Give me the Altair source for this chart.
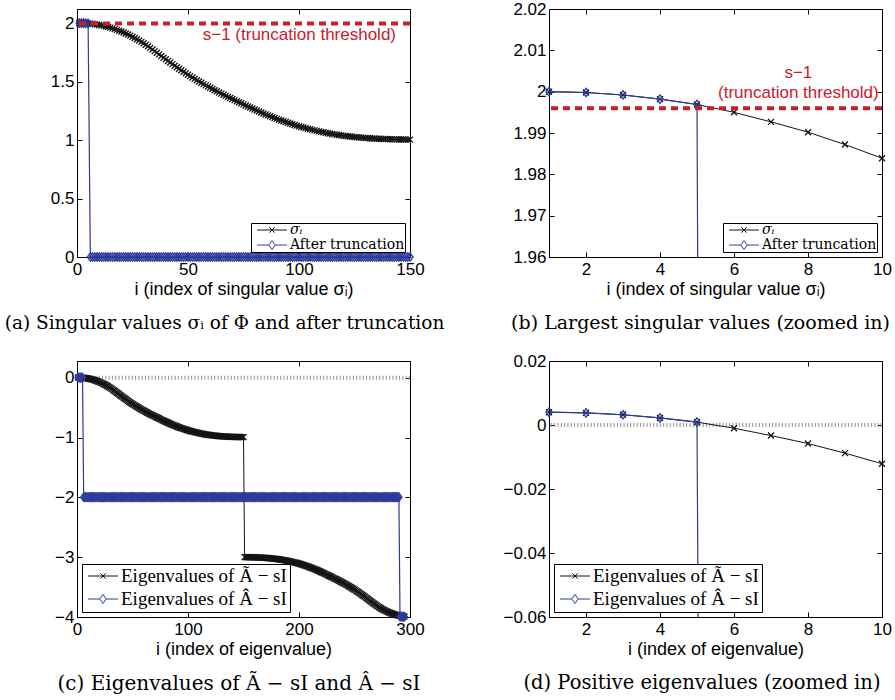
import altair as alt
import pandas as pd

# ---------------- data ----------------
sigma = [
    2.0000, 1.9998, 1.9992, 1.9982, 1.9969, 1.9950, 1.9927, 1.9902, 1.9872, 1.9839,
    1.9801, 1.9758, 1.9711, 1.9660, 1.9605, 1.9546, 1.9483, 1.9416, 1.9345, 1.9270,
    1.9190, 1.9105, 1.9015, 1.8921, 1.8823, 1.8721, 1.8615, 1.8505, 1.8389, 1.8268,
    1.8142, 1.8012, 1.7878, 1.7741, 1.7601, 1.7460, 1.7319, 1.7178, 1.7038, 1.6899,
    1.6761, 1.6624, 1.6488, 1.6353, 1.6220, 1.6089, 1.5960, 1.5833, 1.5708, 1.5585,
    1.5464, 1.5345, 1.5228, 1.5113, 1.5000, 1.4889, 1.4780, 1.4673, 1.4568, 1.4464,
    1.4362, 1.4261, 1.4162, 1.4064, 1.3967, 1.3871, 1.3776, 1.3683, 1.3591, 1.3500,
    1.3410, 1.3321, 1.3233, 1.3140, 1.3048, 1.2957, 1.2867, 1.2778, 1.2690, 1.2603,
    1.2517, 1.2432, 1.2349, 1.2267, 1.2187, 1.2108, 1.2031, 1.1955, 1.1881, 1.1808,
    1.1737, 1.1668, 1.1600, 1.1534, 1.1470, 1.1407, 1.1346, 1.1287, 1.1229, 1.1173,
    1.1119, 1.1066, 1.1015, 1.0965, 1.0917, 1.0870, 1.0825, 1.0781, 1.0739, 1.0698,
    1.0659, 1.0621, 1.0585, 1.0550, 1.0517, 1.0485, 1.0455, 1.0426, 1.0398, 1.0372,
    1.0347, 1.0323, 1.0301, 1.0280, 1.0260, 1.0241, 1.0223, 1.0206, 1.0190, 1.0175,
    1.0161, 1.0148, 1.0136, 1.0125, 1.0115, 1.0105, 1.0096, 1.0088, 1.0081, 1.0074,
    1.0068, 1.0062, 1.0057, 1.0052, 1.0048, 1.0044, 1.0041, 1.0038, 1.0036, 1.0034,
]
after_truncation = [2.0000, 1.9998, 1.9992, 1.9982, 1.9969] + [0.0] * 145
threshold = 1.996

eig_tilde = [
    0.0040, 0.0038, 0.0032, 0.0022, 0.0009, -0.0010, -0.0033, -0.0058, -0.0088, -0.0121,
    -0.0159, -0.0202, -0.0249, -0.0300, -0.0355, -0.0414, -0.0477, -0.0544, -0.0615, -0.0690,
    -0.0770, -0.0855, -0.0945, -0.1039, -0.1137, -0.1239, -0.1345, -0.1455, -0.1571, -0.1692,
    -0.1818, -0.1948, -0.2082, -0.2219, -0.2359, -0.2500, -0.2641, -0.2782, -0.2922, -0.3061,
    -0.3199, -0.3336, -0.3472, -0.3607, -0.3740, -0.3871, -0.4000, -0.4127, -0.4252, -0.4375,
    -0.4496, -0.4615, -0.4732, -0.4847, -0.4960, -0.5071, -0.5180, -0.5287, -0.5392, -0.5496,
    -0.5598, -0.5699, -0.5798, -0.5896, -0.5993, -0.6089, -0.6184, -0.6277, -0.6369, -0.6460,
    -0.6550, -0.6639, -0.6727, -0.6820, -0.6912, -0.7003, -0.7093, -0.7182, -0.7270, -0.7357,
    -0.7443, -0.7528, -0.7611, -0.7693, -0.7773, -0.7852, -0.7929, -0.8005, -0.8079, -0.8152,
    -0.8223, -0.8292, -0.8360, -0.8426, -0.8490, -0.8553, -0.8614, -0.8673, -0.8731, -0.8787,
    -0.8841, -0.8894, -0.8945, -0.8995, -0.9043, -0.9090, -0.9135, -0.9179, -0.9221, -0.9262,
    -0.9301, -0.9339, -0.9375, -0.9410, -0.9443, -0.9475, -0.9505, -0.9534, -0.9562, -0.9588,
    -0.9613, -0.9637, -0.9659, -0.9680, -0.9700, -0.9719, -0.9737, -0.9754, -0.9770, -0.9785,
    -0.9799, -0.9812, -0.9824, -0.9835, -0.9845, -0.9855, -0.9864, -0.9872, -0.9879, -0.9886,
    -0.9892, -0.9898, -0.9903, -0.9908, -0.9912, -0.9916, -0.9919, -0.9922, -0.9924, -0.9926,
    -2.9994, -2.9996, -2.9998, -3.0001, -3.0004, -3.0008, -3.0012, -3.0017, -3.0022, -3.0028,
    -3.0034, -3.0041, -3.0048, -3.0056, -3.0065, -3.0075, -3.0085, -3.0096, -3.0108, -3.0121,
    -3.0135, -3.0150, -3.0166, -3.0183, -3.0201, -3.0220, -3.0240, -3.0261, -3.0283, -3.0307,
    -3.0332, -3.0358, -3.0386, -3.0415, -3.0445, -3.0477, -3.0510, -3.0545, -3.0581, -3.0619,
    -3.0658, -3.0699, -3.0741, -3.0785, -3.0830, -3.0877, -3.0925, -3.0975, -3.1026, -3.1079,
    -3.1133, -3.1189, -3.1247, -3.1306, -3.1367, -3.1430, -3.1494, -3.1560, -3.1628, -3.1697,
    -3.1768, -3.1841, -3.1915, -3.1991, -3.2068, -3.2147, -3.2227, -3.2309, -3.2392, -3.2477,
    -3.2563, -3.2650, -3.2738, -3.2827, -3.2917, -3.3008, -3.3100, -3.3193, -3.3281, -3.3370,
    -3.3460, -3.3551, -3.3643, -3.3736, -3.3831, -3.3927, -3.4024, -3.4122, -3.4221, -3.4322,
    -3.4424, -3.4528, -3.4633, -3.4740, -3.4849, -3.4960, -3.5073, -3.5188, -3.5305, -3.5424,
    -3.5545, -3.5668, -3.5793, -3.5920, -3.6049, -3.6180, -3.6313, -3.6448, -3.6584, -3.6721,
    -3.6859, -3.6998, -3.7138, -3.7279, -3.7420, -3.7561, -3.7701, -3.7838, -3.7972, -3.8102,
    -3.8228, -3.8349, -3.8465, -3.8575, -3.8681, -3.8783, -3.8881, -3.8975, -3.9065, -3.9150,
    -3.9230, -3.9305, -3.9376, -3.9443, -3.9506, -3.9565, -3.9620, -3.9671, -3.9718, -3.9761,
    -3.9799, -3.9832, -3.9862, -3.9887, -3.9910,
]
eig_hat = ([0.0040, 0.0038, 0.0032, 0.0022, 0.0009] + [-1.996] * 285
           + [-3.9929, -3.9942, -3.9952, -3.9958, -3.9960])

LAB_SIGMA = "σᵢ"
LAB_AFTER = "After truncation"
LAB_TILDE = "Eigenvalues of Ã − sI"
LAB_HAT = "Eigenvalues of Â − sI"
THRESH_ONE_LINE = ["s−1 (truncation threshold)"]
THRESH_TWO_LINES = ["s−1", "(truncation threshold)"]

CAPTIONS = [
    "(a) Singular values σᵢ of Φ and after truncation",
    "(b) Largest singular values (zoomed in)",
    "(c) Eigenvalues of Ã − sI and Â − sI",
    "(d) Positive eigenvalues (zoomed in)",
]

# ---------------- style ----------------
BLACK = "#141414"
BLUE = "#2d3c9c"
RED = "#c8202a"
GRAY = "#9a9a9a"
SANS = "Liberation Sans"
SERIF = "Liberation Serif"
CAP_FONT = "DejaVu Serif"

PATH_X = "M-1,-1L1,1M-1,1L1,-1"
PATH_D = "M0,-1L0.72,0L0,1L-0.72,0Z"
PATH_LX = "M-2.5,0L2.5,0M-0.45,-0.45L0.45,0.45M-0.45,0.45L0.45,-0.45"
PATH_LD = "M-2.5,0L-0.55,0M0.55,0L2.5,0M0,-0.75L0.55,0L0,0.75L-0.55,0Z"

INWARD = {"expr": "-5"}


def axis_main(orient, values, title):
    return alt.Axis(orient=orient, values=values, title=title, format=".4~f", grid=False,
                    domain=False, tickSize=INWARD, tickColor="black", tickWidth=1,
                    labelPadding=9 if orient == "bottom" else 8,
                    labelFont=SANS, labelFontSize=17, labelColor="black",
                    labelFlush=False, labelOverlap=False, labelBound=False,
                    titleFont=SANS, titleFontSize=18, titleFontWeight="normal",
                    titleColor="black", titlePadding=3)


def axis_mirror(orient, values):
    return alt.Axis(orient=orient, values=values, labels=False, title=None, grid=False,
                    domain=False, tickSize=INWARD, tickColor="black", tickWidth=1)


def make_legend(labels, orient, font, fsize, pad, rowpad, symoff, laboff, italic_first):
    first = labels[0]
    shape_expr = f"datum.value === '{first}' ? '{PATH_LX}' : '{PATH_LD}'"
    kw = {}
    if italic_first:
        kw["labelFontStyle"] = {"expr": f"datum.value === '{first}' ? 'italic' : 'normal'"}
    return alt.Legend(title=None, orient=orient, offset=5, padding=pad, rowPadding=rowpad,
                      symbolSize=144, symbolOffset=symoff, labelOffset=laboff,
                      symbolType={"expr": shape_expr},
                      labelFont=font, labelFontSize=fsize, labelColor="black", labelLimit=0,
                      strokeColor="black", fillColor="white", cornerRadius=0,
                      symbolStrokeWidth=1, symbolFillColor="white", **kw)


def panel(blk, blu, labels, xdom, ydom, xticks, yticks, xtitle, height, legend,
          caption, cap_dx, cap_size, threshold_rule=False, annot=None, zero_line=False):
    xs = alt.Scale(domain=xdom, nice=False, zero=False)
    ys = alt.Scale(domain=ydom, nice=False, zero=False)
    df_k = pd.DataFrame({"i": list(range(1, len(blk) + 1)), "v": blk, "series": labels[0]})
    df_b = pd.DataFrame({"i": list(range(1, len(blu) + 1)), "v": blu, "series": labels[1]})
    color = alt.Color("series:N", scale=alt.Scale(domain=labels, range=[BLACK, BLUE]),
                      legend=legend)
    in_range = f"datum.v >= {ydom[0]} && datum.v <= {ydom[1]}"

    def xy(xa=None, ya=None):
        return dict(x=alt.X("i:Q", scale=xs, axis=xa), y=alt.Y("v:Q", scale=ys, axis=ya))

    layers = []
    if zero_line:
        layers.append(alt.Chart(pd.DataFrame({"v": [0.0]})).mark_rule(
            color=GRAY, strokeWidth=4, strokeDash=[1.1, 2.2]).encode(
            y=alt.Y("v:Q", scale=ys, axis=None)))
    layers.append(alt.Chart(df_k).mark_line(strokeWidth=1, clip=True).encode(
        **xy(axis_main("bottom", xticks, xtitle), axis_main("left", yticks, None)), color=color))
    layers.append(alt.Chart(df_k).transform_filter(in_range).mark_point(
        shape=PATH_X, size=36, filled=False, color=BLACK, strokeWidth=1.3, opacity=1).encode(**xy()))
    layers.append(alt.Chart(df_b).mark_line(strokeWidth=1.2, clip=True).encode(
        **xy(), color=color))
    layers.append(alt.Chart(df_b).transform_filter(in_range).mark_point(
        shape=PATH_D, size=72, filled=False, color=BLUE, strokeWidth=1.3, opacity=1).encode(**xy()))
    if threshold_rule:
        layers.append(alt.Chart(pd.DataFrame({"v": [threshold]})).mark_rule(
            color=RED, strokeWidth=4, strokeDash=[7, 5]).encode(
            y=alt.Y("v:Q", scale=ys, axis=None)))
    if annot is not None:
        df_t, align = annot
        layers.append(alt.Chart(df_t).mark_text(
            align=align, baseline="middle", font=SANS, fontSize=17, color=RED).encode(
            **xy(), text="label:N"))
    layers.append(alt.Chart(df_k).mark_point(opacity=0, clip=True).encode(
        **xy(axis_mirror("top", xticks), axis_mirror("right", yticks))))

    return alt.layer(*layers).resolve_axis(x="independent", y="independent").properties(
        width=333, height=height,
        title=alt.TitleParams(text=caption, orient="bottom", anchor="middle", dx=cap_dx,
                              offset=16, font=CAP_FONT, fontSize=cap_size, fontWeight="normal",
                              color="black"))


leg_a = make_legend([LAB_SIGMA, LAB_AFTER], "bottom-right", "DejaVu Serif", 14, 0, 1, 14, 11, True)
leg_c = make_legend([LAB_TILDE, LAB_HAT], "bottom-left", SERIF, 19, 2.5, 3, 9, 8.5, False)

annot_a = (pd.DataFrame({"i": [143.7], "v": [1.90], "label": THRESH_ONE_LINE}), "right")
annot_b = (pd.DataFrame({"i": [7.74, 7.74], "v": [2.0046, 1.9997], "label": THRESH_TWO_LINES}), "center")

pa = panel(sigma, after_truncation, [LAB_SIGMA, LAB_AFTER], [0, 150], [0, 2.12],
           [0, 50, 100, 150], [0, 0.5, 1, 1.5, 2], "i (index of singular value σᵢ)", 248,
           leg_a, CAPTIONS[0], -19, 18.5, threshold_rule=True, annot=annot_a)
pb = panel(sigma[:10], after_truncation[:10], [LAB_SIGMA, LAB_AFTER], [1, 10], [1.96, 2.02],
           [2, 4, 6, 8, 10], [1.96, 1.97, 1.98, 1.99, 2.0, 2.01, 2.02],
           "i (index of singular value σᵢ)", 248, leg_a, CAPTIONS[1], -15, 19,
           threshold_rule=True, annot=annot_b)
pc = panel(eig_tilde, eig_hat, [LAB_TILDE, LAB_HAT], [0, 300], [-4, 0.28],
           [0, 100, 200, 300], [0, -1, -2, -3, -4], "i (index of eigenvalue)", 256,
           leg_c, CAPTIONS[2], -4.5, 20, zero_line=True)
pd_ = panel(eig_tilde[:10], eig_hat[:10], [LAB_TILDE, LAB_HAT], [1, 10], [-0.06, 0.02],
            [2, 4, 6, 8, 10], [0.02, 0, -0.02, -0.04, -0.06], "i (index of eigenvalue)", 256,
            leg_c, CAPTIONS[3], -13.5, 19.5, zero_line=True)

chart = alt.concat(pa, pb, pc, pd_, columns=2, spacing={"row": 104, "column": 139},
                   bounds="flush", align="each").resolve_scale(
    color="independent").resolve_legend(color="independent").properties(
    padding={"left": 4, "top": -1, "right": 0, "bottom": 2},
    background="white",
).configure_view(stroke="black", strokeWidth=1)

chart.save("out.html", embed_options={"renderer": "svg", "actions": False})
